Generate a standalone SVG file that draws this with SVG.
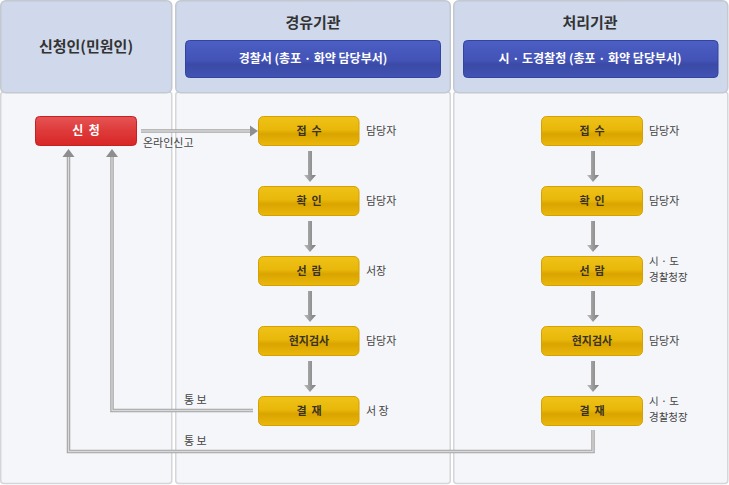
<svg xmlns="http://www.w3.org/2000/svg" width="729" height="485" viewBox="0 0 729 485">
<style>
.body{fill:#f5f6fa;stroke:#d4d6da;stroke-width:1.5}
.head{fill:#cfd9eb;stroke:#c4c8d0;stroke-width:1.5}
.title{font-family:"Noto Sans CJK KR","Noto Sans",sans-serif;font-size:15px;font-weight:bold;fill:#333;text-anchor:middle}
.btxt{font-family:"Noto Sans CJK KR","Noto Sans",sans-serif;font-size:12px;font-weight:bold;fill:#fff;text-anchor:middle}
.ntxt{font-family:"Noto Sans CJK KR","Noto Sans",sans-serif;font-size:11px;font-weight:bold;fill:#3a3320;text-anchor:middle}
.lbl{font-family:"Noto Sans CJK KR","Noto Sans",sans-serif;font-size:11px;fill:#444}
.lbl2{font-family:"Noto Sans CJK KR","Noto Sans",sans-serif;font-size:10.5px;fill:#444}
.yel{fill:url(#gy);stroke:#d6a000;stroke-width:1}
.lnO{fill:none;stroke:#a4a4a4;stroke-width:3.5}
.lnI{fill:none;stroke:#d8d8d8;stroke-width:1.3}
.ah{fill:#8e8e8e}
</style>
<defs>
<linearGradient id="gy" x1="0" y1="0" x2="0" y2="1">
<stop offset="0" stop-color="#f0c218"/><stop offset="0.45" stop-color="#e8b80a"/><stop offset="0.6" stop-color="#dba400"/><stop offset="1" stop-color="#eab80c"/>
</linearGradient>
<linearGradient id="gr" x1="0" y1="0" x2="0" y2="1">
<stop offset="0" stop-color="#e65454"/><stop offset="0.5" stop-color="#de3a3a"/><stop offset="1" stop-color="#d82626"/>
</linearGradient>
<linearGradient id="gb" x1="0" y1="0" x2="0" y2="1">
<stop offset="0" stop-color="#4d5fc4"/><stop offset="0.55" stop-color="#4252b6"/><stop offset="0.65" stop-color="#3a4aa6"/><stop offset="1" stop-color="#4253b4"/>
</linearGradient>
<linearGradient id="ga" x1="0" y1="0" x2="1" y2="0">
<stop offset="0" stop-color="#bcbcbc"/><stop offset="0.5" stop-color="#9a9a9a"/><stop offset="1" stop-color="#7a7a7a"/>
</linearGradient>
<path id="darr" d="M-2,0 H2 V24 H6 L0,31 L-6,24 H-2 Z" fill="url(#ga)"/>
</defs>

<g id="col1">
<rect class="body" x="0.75" y="92" width="171" height="391.5" rx="3"/>
<rect class="head" x="0.75" y="0.75" width="171" height="92" rx="5"/>
<text class="title" x="86" y="52">신청인(민원인)</text>
</g>
<g id="col2">
<rect class="body" x="175.75" y="92" width="274.5" height="391.5" rx="3"/>
<rect class="head" x="175.75" y="0.75" width="274.5" height="92" rx="5"/>
<text class="title" x="313" y="28">경유기관</text>
<rect x="185.5" y="40.5" width="255" height="37" rx="4" fill="url(#gb)" stroke="#3344a0"/>
<text class="btxt" x="313" y="63">경찰서 (총포 · 화약 담당부서)</text>
</g>
<g id="col3">
<rect class="body" x="453.75" y="92" width="274" height="391.5" rx="3"/>
<rect class="head" x="453.75" y="0.75" width="274" height="92" rx="5"/>
<text class="title" x="590" y="28">처리기관</text>
<rect x="463.5" y="40.5" width="254.5" height="37" rx="4" fill="url(#gb)" stroke="#3344a0"/>
<text class="btxt" x="590" y="63">시 · 도경찰청 (총포 · 화약 담당부서)</text>
</g>

<g id="connectors">
<path class="lnO" d="M141,131 H251"/>
<path class="lnI" d="M141,131 H251"/>
<polygon class="ah" points="250,125.5 258,131 250,136.5"/>
<text class="lbl" x="143" y="147">온라인신고</text>

<path class="lnO" d="M253,410.5 H112 V156"/>
<path class="lnI" d="M253,410.5 H112 V156"/>
<polygon class="ah" points="106,157 112,149 118,157"/>
<text class="lbl" x="184" y="404">통 보</text>

<path class="lnO" d="M593,430 V451.5 H68.5 V156"/>
<path class="lnI" d="M593,430 V451.5 H68.5 V156"/>
<polygon class="ah" points="62.5,157 68.5,149 74.5,157"/>
<text class="lbl" x="184" y="445">통 보</text>

<use href="#darr" x="310" y="151"/>
<use href="#darr" x="310" y="221"/>
<use href="#darr" x="310" y="291"/>
<use href="#darr" x="310" y="361"/>
<use href="#darr" x="593" y="151"/>
<use href="#darr" x="593" y="221"/>
<use href="#darr" x="593" y="291"/>
<use href="#darr" x="593" y="361"/>
</g>

<g id="n-apply">
<rect x="35.5" y="116.5" width="101" height="29" rx="4" fill="url(#gr)" stroke="#c82020"/>
<text class="btxt" x="86" y="135">신&#160;&#160;청</text>
</g>

<g id="n2-receive">
<rect class="yel" x="258.5" y="116.5" width="100.5" height="29" rx="5"/>
<text class="ntxt" x="309" y="135">접&#160;&#160;수</text>
<text class="lbl" x="366" y="135">담당자</text>
</g>
<g id="n2-confirm">
<rect class="yel" x="258.5" y="186.5" width="100.5" height="29" rx="5"/>
<text class="ntxt" x="309" y="205">확&#160;&#160;인</text>
<text class="lbl" x="366" y="205">담당자</text>
</g>
<g id="n2-review">
<rect class="yel" x="258.5" y="256.5" width="100.5" height="29" rx="5"/>
<text class="ntxt" x="309" y="275">선&#160;&#160;람</text>
<text class="lbl" x="366" y="275">서장</text>
</g>
<g id="n2-inspect">
<rect class="yel" x="258.5" y="326.5" width="100.5" height="29" rx="5"/>
<text class="ntxt" x="309" y="345">현지검사</text>
<text class="lbl" x="366" y="345">담당자</text>
</g>
<g id="n2-approve">
<rect class="yel" x="258.5" y="396.5" width="100.5" height="29" rx="5"/>
<text class="ntxt" x="309" y="415">결&#160;&#160;재</text>
<text class="lbl" x="366" y="415">서&#160;장</text>
</g>

<g id="n3-receive">
<rect class="yel" x="541.5" y="116.5" width="101" height="29" rx="5"/>
<text class="ntxt" x="592" y="135">접&#160;&#160;수</text>
<text class="lbl" x="649" y="135">담당자</text>
</g>
<g id="n3-confirm">
<rect class="yel" x="541.5" y="186.5" width="101" height="29" rx="5"/>
<text class="ntxt" x="592" y="205">확&#160;&#160;인</text>
<text class="lbl" x="649" y="205">담당자</text>
</g>
<g id="n3-review">
<rect class="yel" x="541.5" y="256.5" width="101" height="29" rx="5"/>
<text class="ntxt" x="592" y="275">선&#160;&#160;람</text>
<text class="lbl2" x="649" y="265">시 · 도</text>
<text class="lbl2" x="649" y="280.5">경찰청장</text>
</g>
<g id="n3-inspect">
<rect class="yel" x="541.5" y="326.5" width="101" height="29" rx="5"/>
<text class="ntxt" x="592" y="345">현지검사</text>
<text class="lbl" x="649" y="345">담당자</text>
</g>
<g id="n3-approve">
<rect class="yel" x="541.5" y="396.5" width="101" height="29" rx="5"/>
<text class="ntxt" x="592" y="415">결&#160;&#160;재</text>
<text class="lbl2" x="649" y="405">시 · 도</text>
<text class="lbl2" x="649" y="420.5">경찰청장</text>
</g>
</svg>
